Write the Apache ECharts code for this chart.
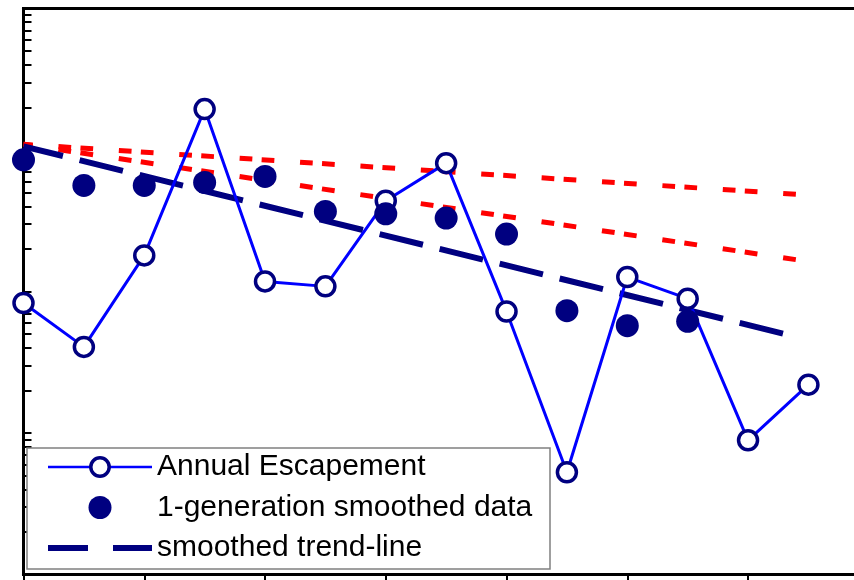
<!DOCTYPE html>
<html>
<head>
<meta charset="utf-8">
<script src="https://cdn.jsdelivr.net/npm/echarts@6/dist/echarts.min.js"></script>
<style>
html, body { margin: 0; padding: 0; background: #fff; }
#chart { width: 854px; height: 580px; }
</style>
</head>
<body>
<div id="chart"></div>
<script>
// years along the x axis (the tick labels are cut off in the source figure)
const years = [1990, 1991, 1992, 1993, 1994, 1995, 1996, 1997, 1998, 1999, 2000, 2001, 2002, 2003];
// annual escapement, one value per year
const escapement = [8300, 4060, 18000, 194500, 11790, 10870, 43770, 80760, 7230, 528, 12650, 8895, 888, 2197];
// 1-generation smoothed data (first 12 years)
const smoothed = [85300, 56150, 56150, 58960, 65010, 36800, 35420, 33040, 25470, 7316, 5733, 6150];
// straight lines on the log scale, [year, value] at each end
const trendLine = [[1990, 106200], [2002.75, 4840]];
const upperBound = [[1990, 109700], [2002.8, 48640]];
const lowerBound = [[1990, 109700], [2002.8, 16770]];
// log axis tick marks (1..9 per decade)
const yTicks = [
	100, 200, 300, 400, 500, 600, 700, 800, 900,
	1000, 2000, 3000, 4000, 5000, 6000, 7000, 8000, 9000,
	10000, 20000, 30000, 40000, 50000, 60000, 70000, 80000, 90000,
	100000, 200000, 300000, 400000, 500000, 600000, 700000, 800000, 900000,
	1000000
];

const myChart = echarts.init(document.getElementById('chart'));

// red dash pattern, stretched a little so the dashes line up in x on both slopes
const redDash = [12.7, 9.3, 12.7, 25.7];

const option = {
	animation: false,
	backgroundColor: '#fff',
	grid: {
		left: 23.5,
		top: 8.5,
		width: 845.3,
		height: 566,
		outerBoundsMode: 'none',
		show: true,
		borderColor: '#000',
		borderWidth: 3
	},
	xAxis: {
		type: 'value',
		min: 1990,
		max: 2004,
		interval: 2,
		axisLine: { lineStyle: { color: '#000', width: 3 } },
		axisTick: { inside: false, length: 8, lineStyle: { color: '#000', width: 2 } },
		axisLabel: { show: false },
		splitLine: { show: false }
	},
	yAxis: {
		type: 'log',
		logBase: 10,
		min: 100,
		max: 1000000,
		axisLine: { lineStyle: { color: '#000', width: 3 } },
		axisTick: { inside: true, length: 8, customValues: yTicks, lineStyle: { color: '#000', width: 2 } },
		axisLabel: { show: false },
		splitLine: { show: false },
		minorTick: { show: false }
	},
	legend: {
		orient: 'vertical',
		left: 45,
		top: 452,
		padding: 0,
		itemWidth: 104,
		itemHeight: 23,
		itemGap: 10.5,
		selectedMode: false,
		textStyle: { fontFamily: 'Liberation Sans', fontSize: 30, color: '#000', lineHeight: 30 },
		data: [
			{
				name: 'Annual Escapement',
				lineStyle: { width: 2.5 },
				itemStyle: { color: '#fff', borderColor: '#000080', borderWidth: 3.5 }
			},
			{ name: '1-generation smoothed data', icon: 'circle' },
			{
				name: 'smoothed trend-line',
				lineStyle: { color: '#000080', width: 6, type: [44, 25], cap: 'butt' },
				itemStyle: { opacity: 0 }
			}
		]
	},
	// legend frame
	graphic: [{
		type: 'rect',
		z: 3,
		shape: { x: 27, y: 448, width: 523, height: 121 },
		style: { fill: '#fff', stroke: '#808080', lineWidth: 1.5 }
	}],
	series: [
		{
			name: 'upper',
			type: 'line',
			data: upperBound,
			symbol: 'none',
			silent: true,
			z: 1,
			lineStyle: { color: '#ff0000', width: 5, cap: 'butt', type: redDash.map(d => d * 1.002), dashOffset: 25.5 }
		},
		{
			name: 'lower',
			type: 'line',
			data: lowerBound,
			symbol: 'none',
			silent: true,
			z: 1,
			lineStyle: { color: '#ff0000', width: 5, cap: 'butt', type: redDash.map(d => d * 1.011), dashOffset: 25.8 }
		},
		{
			name: 'smoothed trend-line',
			type: 'line',
			data: trendLine,
			symbol: 'none',
			z: 2,
			lineStyle: { color: '#000080', width: 6, cap: 'butt', type: [44.6, 17.2], dashOffset: 4 }
		},
		{
			name: 'Annual Escapement',
			type: 'line',
			data: years.map((y, i) => [y, escapement[i]]),
			symbol: 'circle',
			symbolSize: 19,
			z: 3,
			lineStyle: { color: '#0000ff', width: 3 },
			itemStyle: { color: '#fff', borderColor: '#000080', borderWidth: 3.5 }
		},
		{
			name: '1-generation smoothed data',
			type: 'scatter',
			data: smoothed.map((v, i) => [years[i], v]),
			symbolSize: 23,
			z: 4,
			itemStyle: { color: '#000080', opacity: 1 }
		}
	]
};

myChart.setOption(option);
</script>
</body>
</html>
